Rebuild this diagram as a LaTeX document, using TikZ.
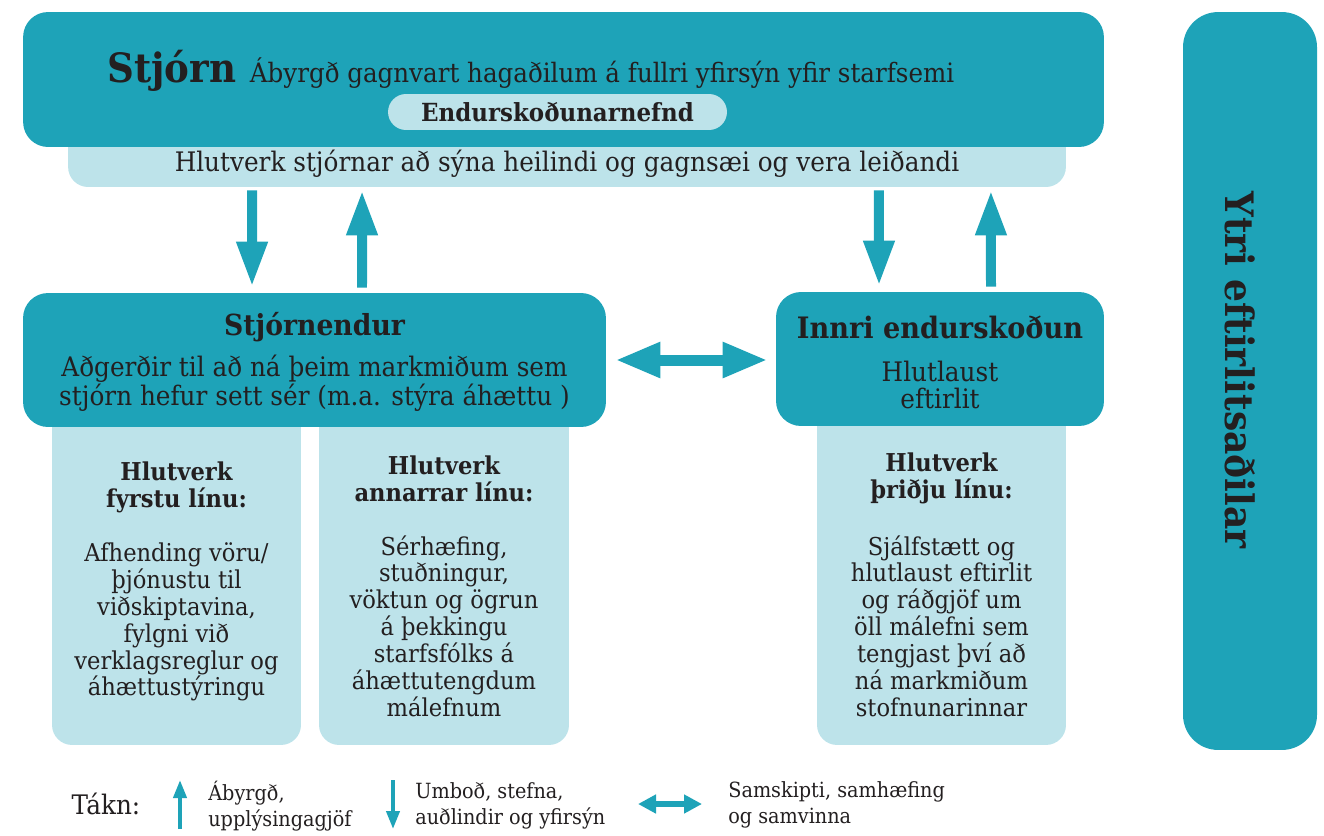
\documentclass[tikz,border=0pt]{standalone}
\usepackage{fontspec}
\setmainfont{DejaVu Serif}[FakeStretch=0.92]
\usetikzlibrary{arrows.meta,positioning}

\definecolor{tealdark}{HTML}{1EA3B8}
\definecolor{teallight}{HTML}{BDE3EA}
\definecolor{inkdark}{HTML}{231F20}

\begin{document}
\begin{tikzpicture}[x=0.02cm, y=-0.02cm,
    darkbox/.style={fill=tealdark, draw=none, rounded corners=0.5cm, inner sep=0pt},
    lightbox/.style={fill=teallight, draw=none, rounded corners=0.4cm, inner sep=0pt},
    txt/.style={text=inkdark, inner sep=0pt, align=center},
    headfont/.style={txt, font=\bfseries\fontsize{16.5}{20}\selectfont},
    bodyfont/.style={txt, font=\fontsize{15.3}{15.3}\selectfont},
    boxfont/.style={txt, font=\fontsize{14}{15.3}\selectfont},
    legendfont/.style={txt, align=left, font=\fontsize{11.9}{14.7}\selectfont},
    bigarrow/.style={tealdark, line width=0.2cm, -{Triangle[width=0.58cm,length=0.9cm]}},
    twoway/.style={tealdark, line width=0.22cm, {Triangle[width=0.66cm,length=0.9cm]}-{Triangle[width=0.66cm,length=0.9cm]}},
    smallarrow/.style={tealdark, line width=0.08cm, -{Triangle[width=0.26cm,length=0.36cm]}},
    smalltwoway/.style={tealdark, line width=0.12cm, {Triangle[width=0.36cm,length=0.36cm]}-{Triangle[width=0.36cm,length=0.36cm]}}]
    \useasboundingbox (0,0) rectangle (1324,835);

    % stjorn og hlutverk
    \node[lightbox, minimum width=19.96cm, minimum height=1.74cm] (band) at (567,143.5) {};
    \node[darkbox, minimum width=21.62cm, minimum height=2.7cm] (stjorn) at (563.5,79.5) {};
    \node[txt, anchor=base west, font=\bfseries\fontsize{23}{28}\selectfont] (stjornhead) at (107,82) {Stjórn};
    \node[txt, font=\fontsize{15.2}{18}\selectfont, right=0.26cm of stjornhead.base east, anchor=base west] (stjornsub) {Ábyrgð gagnvart hagaðilum á fullri yfirsýn yfir starfsemi};
    \node[lightbox, rounded corners=0.36cm, minimum width=6.78cm, minimum height=0.72cm] (nefnd) at (557.5,112) {};
    \node[txt, font=\bfseries\fontsize{14.2}{16}\selectfont] (nefndtext) at (nefnd) {Endurskoðunarnefnd};
    \node[bodyfont] (bandtext) at (567,164) {Hlutverk stjórnar að sýna heilindi og gagnsæi og vera leiðandi};

    % lina 1, 2 og 3
    \node[lightbox, minimum width=4.98cm, minimum height=7.3cm] (line1) at (176.5,562.5) {};
    \node[lightbox, minimum width=5cm, minimum height=7.3cm] (line2) at (444,562.5) {};
    \node[lightbox, minimum width=4.98cm, minimum height=7.3cm] (line3) at (941.5,562.5) {};

    \node[boxfont, font=\bfseries\fontsize{14}{15.3}\selectfont] (line1head) at (176.5,487.5) {Hlutverk\\fyrstu línu:};
    \node[boxfont] (line1body) at (176.5,622) {Afhending vöru/\\þjónustu til\\viðskiptavina,\\fylgni við\\verklagsreglur og\\áhættustýringu};
    \node[boxfont, font=\bfseries\fontsize{14}{15.3}\selectfont] (line2head) at (444,478.5) {Hlutverk\\annarrar línu:};
    \node[boxfont] (line2body) at (444,626) {Sérhæfing,\\stuðningur,\\vöktun og ögrun\\á þekkingu\\starfsfólks á\\áhættutengdum\\málefnum};
    \node[boxfont, font=\bfseries\fontsize{14}{15.3}\selectfont] (line3head) at (941.5,478.5) {Hlutverk\\þriðju línu:};
    \node[boxfont] (line3body) at (941.5,626) {Sjálfstætt og\\hlutlaust eftirlit\\og ráðgjöf um\\öll málefni sem\\tengjast því að\\ná markmiðum\\stofnunarinnar};

    % stjornendur og innri endurskodun
    \node[darkbox, minimum width=11.66cm, minimum height=2.68cm] (mgmt) at (314.5,360) {};
    \node[headfont] (mgmthead) at (314.5,327) {Stjórnendur};
    \node[bodyfont] (mgmtbody) at (314.5,383.5) {Aðgerðir til að ná þeim markmiðum sem\\stjórn hefur sett sér (m.a. stýra áhættu )};
    \node[darkbox, minimum width=6.56cm, minimum height=2.68cm] (audit) at (940,359) {};
    \node[headfont, font=\bfseries\fontsize{16.8}{20}\selectfont] (audithead) at (940,327) {Innri endurskoðun};
    \node[bodyfont] (auditbody) at (940,385) {Hlutlaust\\eftirlit};

    % ytri eftirlitsadilar
    \node[darkbox, rounded corners=0.7cm, minimum width=2.68cm, minimum height=14.76cm] (ext) at (1250,381) {};
    \node[txt, rotate=-90, font=\bfseries\fontsize{22.3}{26}\selectfont] (exttext) at (1240,370) {Ytri eftirlitsaðilar};

    % orvar
    \draw[bigarrow, shorten <=0.06cm, shorten >=0.12cm] ([xshift=-6.3cm]band.south) -- ([xshift=-1.25cm]mgmt.north);
    \draw[bigarrow, shorten <=0.1cm, shorten >=0.06cm] ([xshift=0.95cm]mgmt.north) -- ([xshift=-4.1cm]band.south);
    \draw[bigarrow, shorten <=0.06cm, shorten >=0.12cm] ([xshift=6.24cm]band.south) -- ([xshift=-1.22cm]audit.north);
    \draw[bigarrow, shorten <=0.1cm, shorten >=0.06cm] ([xshift=1.02cm]audit.north) -- ([xshift=8.48cm]band.south);
    \draw[twoway, shorten <=0.18cm, shorten >=0.16cm] (mgmt.east) -- (mgmt.east -| audit.west);

    % takn
    \node[txt, font=\fontsize{15.3}{17}\selectfont] (takn) at (106,804) {Tákn:};
    \coordinate (upfrom) at (180,829);
    \coordinate (upto) at (180,780);
    \draw[smallarrow] (upfrom) -- (upto);
    \node[legendfont, anchor=west] (uptext) at (208,806) {Ábyrgð,\\upplýsingagjöf};
    \coordinate (downfrom) at (393,780);
    \coordinate (downto) at (393,829);
    \draw[smallarrow] (downfrom) -- (downto);
    \node[legendfont, anchor=west] (downtext) at (415,806) {Umboð, stefna,\\auðlindir og yfirsýn};
    \coordinate (bothfrom) at (638,804);
    \coordinate (bothto) at (702,804);
    \draw[smalltwoway] (bothfrom) -- (bothto);
    \node[legendfont, anchor=west] (bothtext) at (728,805) {Samskipti, samhæfing\\og samvinna};
\end{tikzpicture}
\end{document}
